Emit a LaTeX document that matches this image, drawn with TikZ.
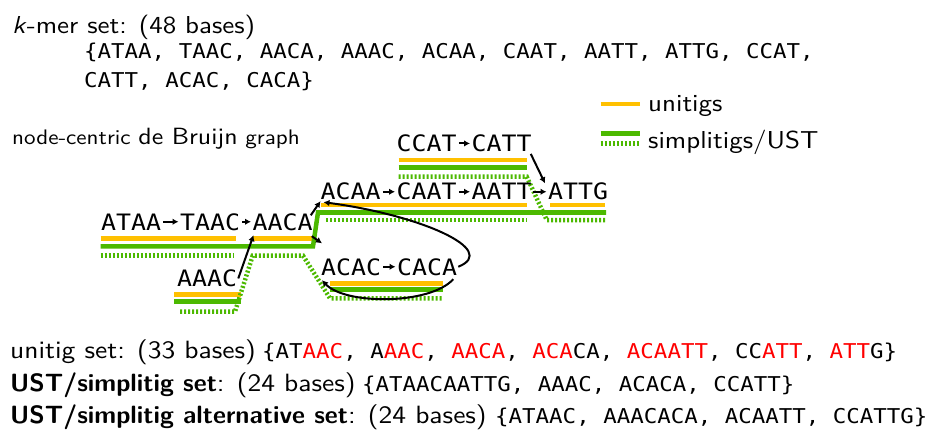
\documentclass[tikz,border=0pt]{standalone}
\usepackage{fontspec}
\setmainfont{lmsans10}[Extension=.otf, UprightFont=*-regular, BoldFont=*-bold, ItalicFont=*-oblique, BoldItalicFont=*-boldoblique, FakeStretch=1.1]
\newfontfamily\bsf{lmsans10-bold.otf}[FakeStretch=1.01]
\newfontfamily\dvm{DejaVu Sans Mono}[FakeStretch=1.1]
\usetikzlibrary{arrows.meta}
\definecolor{uniorange}{RGB}{255,192,0}
\definecolor{simpgreen}{RGB}{76,185,0}
\definecolor{unired}{RGB}{255,0,0}
\tikzset{
  kmer/.style={font=\dvm\fontsize{22.6}{24}\selectfont, inner sep=0pt, anchor=base west, text height=16.5pt, text depth=0pt},
  lbl/.style={inner sep=0pt, anchor=base west, font=\fontsize{24.5}{28}\selectfont},
  botlbl/.style={inner sep=0pt, anchor=base west, font=\fontsize{25}{28}\selectfont},
  monolbl/.style={inner sep=0pt, anchor=base west, font=\dvm\fontsize{20.4}{24}\selectfont},
  arr/.style={-{Latex[length=6pt,width=6.5pt]}, line width=2pt},
  uni/.style={draw=uniorange, line width=4.5pt},
  simp/.style={draw=simpgreen, line width=4.5pt},
  alt/.style={draw=simpgreen, line width=4.5pt, dash pattern=on 2pt off 2pt},
}
\begin{document}
\begin{tikzpicture}[x=1pt,y=-1pt]
\useasboundingbox (0,0) rectangle (927,433);
% header texts
\node[lbl] (kmerset) at (12,33.3) {\textit{k}-mer set: (48 bases)};
\node[monolbl] (kmerlist1) at (84,58.8) {\{ATAA, TAAC, AACA, AAAC, ACAA, CAAT, AATT, ATTG, CCAT,};
\node[monolbl] (kmerlist2) at (84,88) {CATT, ACAC, CACA\}};
\node[lbl, font=\fontsize{21}{24}\selectfont] (graphtitle) at (12,144.3) {node-centric {\fontsize{23.5}{28}\selectfont de Bruijn} graph};
% legend
\draw[uni] (600.5,104) -- (640,104);
\draw[simp] (600.5,133.5) -- (640,133.5);
\draw[alt] (600.5,143.5) -- (640,143.5);
\node[lbl] (legu) at (648,112) {unitigs};
\node[lbl] (legs) at (648,148.5) {simplitigs/UST};
% coloured paths
\draw[uni] (100.7,238.3) -- (235.7,238.3);
\draw[uni] (253,238.3) -- (311.7,238.3);
\draw[uni] (174,294.3) -- (240.7,294.3);
\draw[uni] (330,283.3) -- (443,283.3);
\draw[uni] (320.7,205) -- (526.7,205);
\draw[uni] (550,205) -- (605,205);
\draw[uni] (398.7,160) -- (526.7,160);
\draw[simp] (100.7,246.3) -- (313,246.3) -- (318,212.5) -- (606,212.5);
\draw[simp] (174,301.7) -- (240.7,301.7);
\draw[simp] (330,289.5) -- (443,289.5);
\draw[simp] (398.7,167.3) -- (526.7,167.3);
\draw[alt] (100.7,255.7) -- (233,255.7);
\draw[alt] (180,311.7) -- (235,311.7) -- (252.7,255.7) -- (303,255.7) -- (330,298.3) -- (443,298.3);
\draw[alt] (326,220) -- (526.7,220);
\draw[alt] (398.7,176.7) -- (526.7,176.7) -- (546.7,220) -- (605,220);
% k-mer nodes
\node[kmer] (ATAA) at (101,230) {ATAA};
\node[kmer] (TAAC) at (180,230) {TAAC};
\node[kmer] (AACA) at (252.5,230) {AACA};
\node[kmer] (AAAC) at (177,286.7) {AAAC};
\node[kmer] (ACAC) at (321,275) {ACAC};
\node[kmer] (CACA) at (397,275) {CACA};
\node[kmer] (ACAA) at (320.5,200) {ACAA};
\node[kmer] (CAAT) at (396.5,200) {CAAT};
\node[kmer] (AATT) at (471.5,200) {AATT};
\node[kmer] (ATTG) at (548,200) {ATTG};
\node[kmer] (CCAT) at (396.5,151.7) {CCAT};
\node[kmer] (CATT) at (471.5,151.7) {CATT};
% edges
\draw[arr] ([xshift=2pt]ATAA.east) -- ([xshift=-1.5pt]TAAC.west);
\draw[arr] ([xshift=2pt]TAAC.east) -- ([xshift=-1.5pt]AACA.west);
\draw[arr] ([xshift=2pt]ACAA.east) -- ([xshift=-1.5pt]CAAT.west);
\draw[arr] ([xshift=2pt]CAAT.east) -- ([xshift=-1.5pt]AATT.west);
\draw[arr] ([xshift=1pt]AATT.east) -- ([xshift=-1.5pt]ATTG.west);
\draw[arr] ([xshift=2pt]CCAT.east) -- ([xshift=-1.5pt]CATT.west);
\draw[arr] ([xshift=2pt]ACAC.east) -- ([xshift=-1.5pt]CACA.west);
\draw[arr] ([shift={(-2,2)}]AACA.north east) -- ([shift={(0,1)}]ACAA.south west);
\draw[arr] ([shift={(-1,6)}]AACA.south east) -- ([shift={(1,-15)}]ACAC.north west);
\draw[arr] ([xshift=1pt]AAAC.east) -- ([shift={(1,5)}]AACA.south west);
\draw[arr] ([shift={(-1,2)}]CATT.south east) -- ([shift={(-3,0)}]ATTG.north west);
\draw[arr] ([xshift=1pt]CACA.east) .. controls (500,250) and (420,215) .. ([shift={(3,2)}]ACAA.south west);
\draw[arr] ([shift={(-4,4)}]CACA.south east) .. controls (430,305) and (345,305) .. ([shift={(1,5)}]ACAC.south west);
% bottom texts
\node[botlbl] (uniset) at (10,358.3) {unitig set: (33 bases)};
\node[monolbl] (unilist) at (262,358.3) {\{AT\textcolor{unired}{AAC}, A\textcolor{unired}{AAC}, \textcolor{unired}{AACA}, \textcolor{unired}{ACA}CA, \textcolor{unired}{ACAATT}, CC\textcolor{unired}{ATT}, \textcolor{unired}{ATT}G\}};
\node[botlbl] (ustset) at (10,391) {{\bsf UST/simplitig set}: (24 bases)};
\node[monolbl] (ustlist) at (362,391) {\{ATAACAATTG, AAAC, ACACA, CCATT\}};
\node[botlbl] (altset) at (10,423.5) {{\bsf UST/simplitig alternative set}: (24 bases)};
\node[monolbl] (altlist) at (495,423.5) {\{ATAAC, AAACACA, ACAATT, CCATTG\}};
\end{tikzpicture}
\end{document}
